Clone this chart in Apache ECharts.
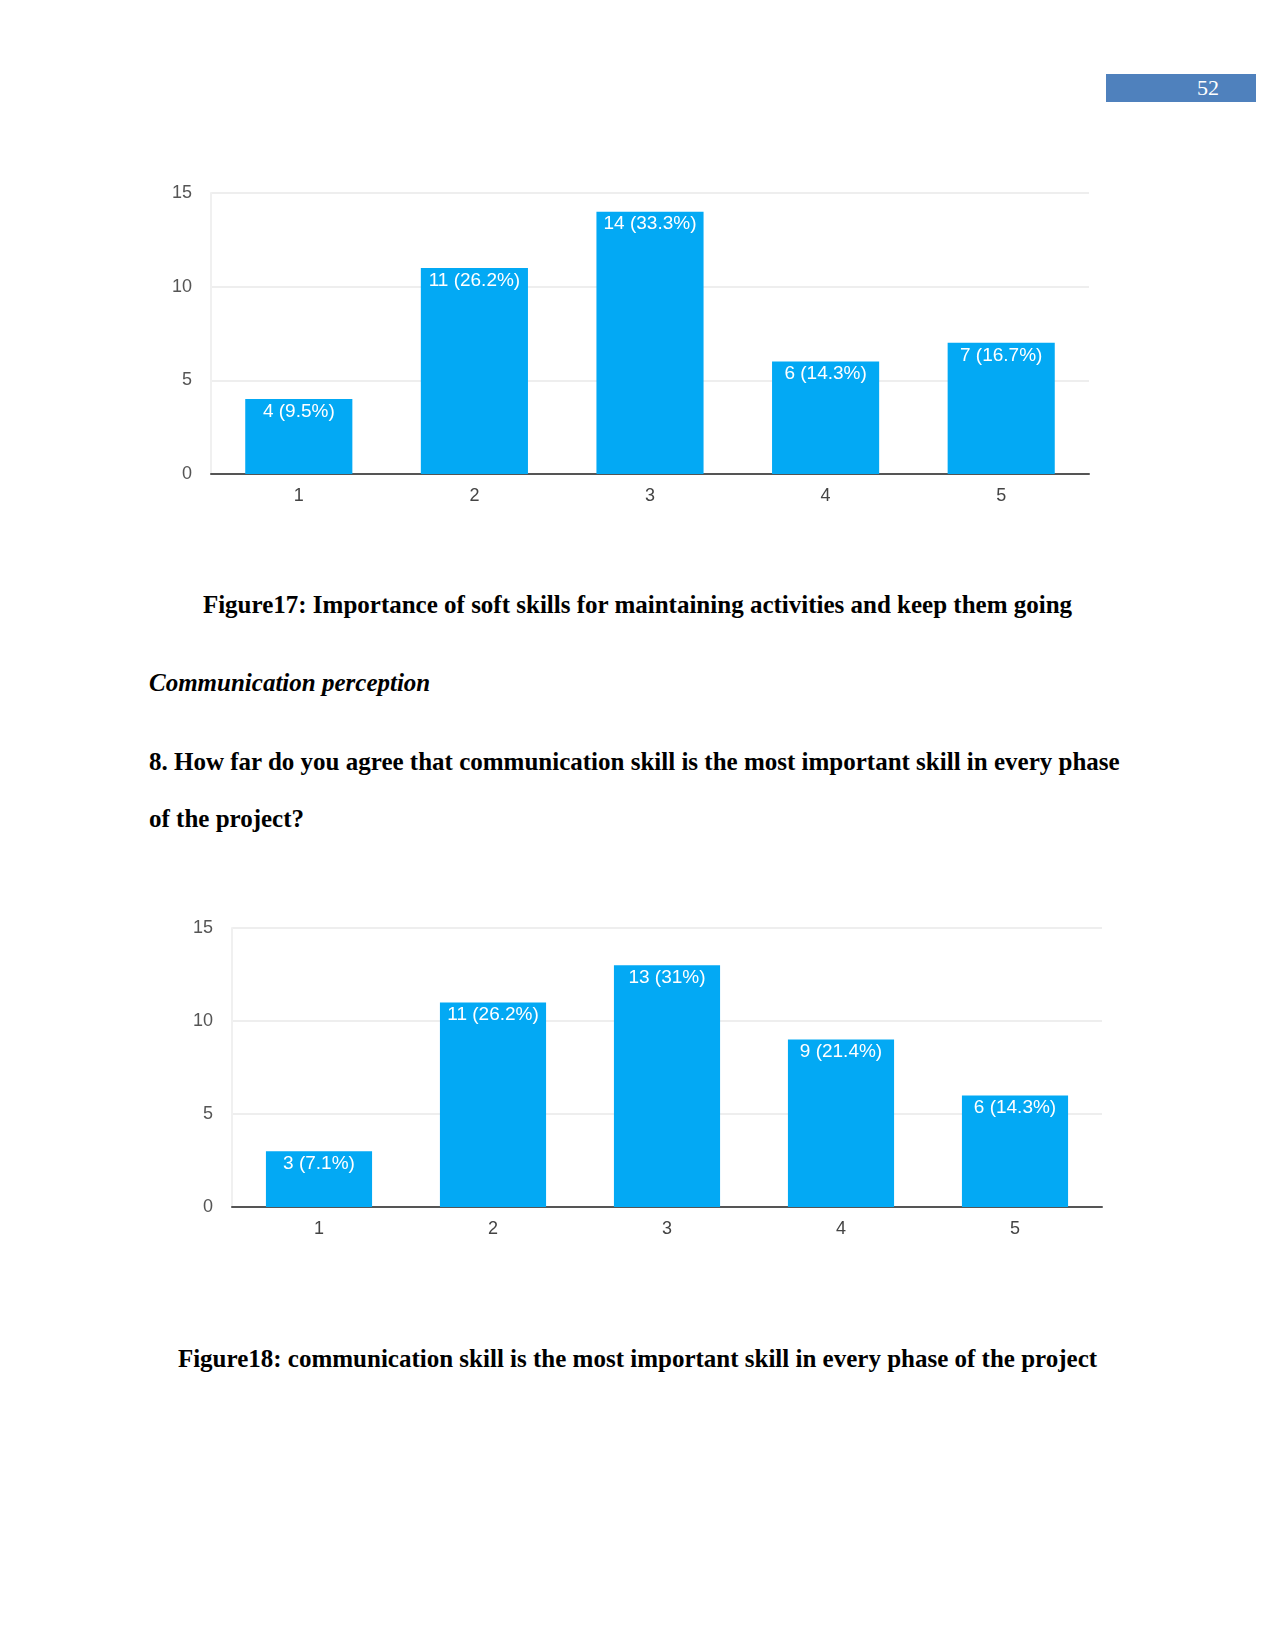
<!DOCTYPE html>
<html>
<head>
<meta charset="utf-8">
<script src="https://cdn.jsdelivr.net/npm/echarts@6/dist/echarts.min.js"></script>
<style>
  html, body { margin: 0; padding: 0; background: #fff; }
  .page { position: relative; width: 1275px; height: 1651px; font-family: "Liberation Serif", "Times New Roman", serif; color: #000; }
  .pnum { position: absolute; left: 1106px; top: 74px; width: 150px; height: 28px; background: #4f81bd; color: #fff; font-size: 22px; line-height: 28px; }
  .pnum span { position: absolute; left: 91px; }
  .chart { position: absolute; }
  .txt { position: absolute; font-size: 25px; font-weight: bold; white-space: nowrap; line-height: 1; }
  .center { left: 0; width: 1275px; text-align: center; }
</style>
</head>
<body>
<div class="page">
  <div class="pnum"><span>52</span></div>

  <div id="chart1" class="chart" style="left:140px; top:170px; width:980px; height:350px;"></div>
  <div class="txt center" style="top:592px;">Figure17: Importance of soft skills for maintaining activities and keep them going</div>

  <div class="txt" style="left:149px; top:670px; font-style:italic;">Communication perception</div>
  <div class="txt" style="left:149px; top:749px;">8. How far do you agree that communication skill is the most important skill in every phase</div>
  <div class="txt" style="left:149px; top:806px;">of the project?</div>

  <div id="chart2" class="chart" style="left:160px; top:905px; width:980px; height:350px;"></div>
  <div class="txt center" style="top:1346px;">Figure18: communication skill is the most important skill in every phase of the project</div>
</div>

<script>
// rating scale on the x axis
const categories = ['1', '2', '3', '4', '5']
const yTicks = [0, 5, 10, 15]

// Figure 17 responses
const counts17 = [4, 11, 14, 6, 7]
const pct17 = ['9.5%', '26.2%', '33.3%', '14.3%', '16.7%']

// Figure 18 responses
const counts18 = [3, 11, 13, 9, 6]
const pct18 = ['7.1%', '26.2%', '31%', '21.4%', '14.3%']

const BAR = '#03a9f4'
const FONT = '"Liberation Sans", Arial, sans-serif'

function buildOption(counts, pct, grid) {
  return {
    animation: false,
    grid,
    xAxis: {
      type: 'category',
      data: categories,
      axisTick: { show: false },
      axisLine: { lineStyle: { color: '#555', width: 2 } },
      axisLabel: { color: '#444', fontSize: 18, fontFamily: FONT, margin: 13 },
    },
    yAxis: {
      type: 'value',
      min: yTicks[0],
      max: yTicks[yTicks.length - 1],
      interval: 5,
      axisLine: { show: true, lineStyle: { color: '#f0f0f0', width: 2 } },
      axisTick: { show: false },
      axisLabel: { color: '#555', fontSize: 18, fontFamily: FONT, margin: 19 },
      splitLine: { lineStyle: { color: '#eeeeee', width: 2 } },
    },
    series: [{
      type: 'bar',
      barWidth: '61%',
      itemStyle: { color: BAR },
      label: {
        show: true,
        position: 'insideTop',
        distance: 3,
        color: '#fff',
        fontSize: 19,
        fontFamily: FONT,
        formatter: (p) => `${p.value} (${pct[p.dataIndex]})`,
      },
      data: counts,
    }],
  }
}

const c1 = echarts.init(document.getElementById('chart1'))
c1.setOption(buildOption(counts17, pct17, { left: 71, right: 31, top: 23, bottom: 46 }))

const c2 = echarts.init(document.getElementById('chart2'))
c2.setOption(buildOption(counts18, pct18, { left: 72, right: 38, top: 23, bottom: 48 }))
</script>
</body>
</html>
